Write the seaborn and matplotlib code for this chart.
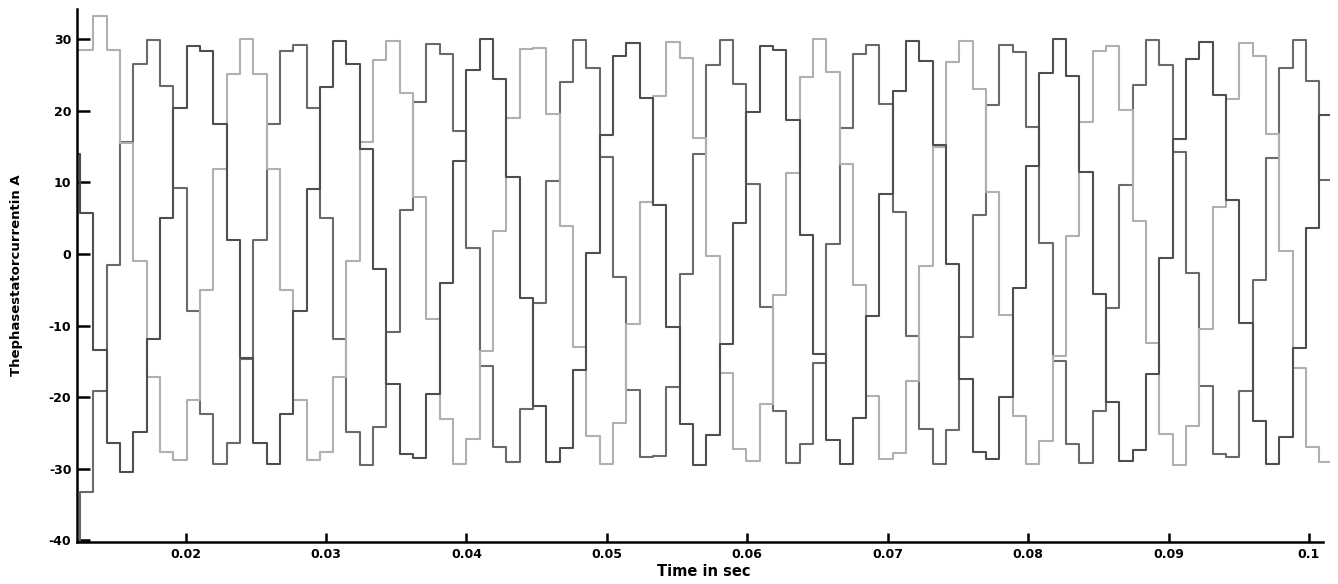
import numpy as np
import pandas as pd
import matplotlib
matplotlib.use('Agg')
import matplotlib.pyplot as plt
import seaborn as sns

# Muestreo de la corriente (retencion de orden cero)
t_inicio = 0.011525
periodo_muestreo = 0.000949

# Corriente de cada fase en A, un valor por escalon
fase_a = [-40.0, -33.3, -19.2, -1.5, 15.7, 26.6, 29.9, 23.4, 9.2, -8.0,
          -22.4, -29.3, -26.4, -14.7, 2.0, 18.2, 28.3, 29.2, 20.4, 5.0,
          -11.9, -24.9, -29.5, -24.2, -10.9, 6.2, 21.2, 29.4, 27.9, 17.2,
          0.8, -15.6, -26.9, -29.1, -21.6, -6.8, 10.2, 24.0, 29.9, 26.0,
          13.5, -3.2, -19.0, -28.3, -28.2, -18.6, -2.8, 14.0, 26.4, 29.9,
          23.8, 9.8, -7.4, -22.0, -29.2, -26.6, -15.2, 1.4, 17.6, 28.0,
          29.2, 21.0, 5.8, -11.4, -24.4, -29.4, -24.6, -11.6, 5.4, 20.8,
          29.2, 28.2, 17.8, 1.6, -15.0, -26.6, -29.2, -22.0, -7.6, 9.6,
          23.6, 29.9, 26.4, 14.2, -2.6, -18.4, -28.0, -28.4, -19.2, -3.6,
          13.4, 26.0, 29.9, 24.2, 10.3]
fase_b = [14.0, 5.7, -13.4, -26.4, -30.5, -24.9, -11.9, 5.0, 20.4, 29.1,
          28.3, 18.1, 2.0, -14.6, -26.4, -29.3, -22.4, -8.0, 9.1, 23.3,
          29.8, 26.6, 14.6, -2.1, -18.1, -28.0, -28.5, -19.5, -4.0, 13.0,
          25.7, 30.0, 24.4, 10.8, -6.2, -21.2, -29.0, -27.1, -16.2, 0.2,
          16.6, 27.6, 29.5, 21.8, 6.9, -10.2, -23.8, -29.5, -25.3, -12.6,
          4.3, 19.9, 29.0, 28.5, 18.7, 2.7, -14.0, -26.0, -29.4, -22.9,
          -8.7, 8.4, 22.8, 29.8, 26.9, 15.2, -1.4, -17.5, -27.7, -28.7,
          -20.0, -4.7, 12.3, 25.3, 30.0, 24.8, 11.5, -5.6, -20.7, -28.9,
          -27.4, -16.8, -0.5, 16.0, 27.3, 29.6, 22.2, 7.5, -9.6, -23.4,
          -29.4, -25.6, -13.2, 3.6, 19.4]
fase_c = [28.5, 28.5, 33.2, 28.5, 15.5, -1.0, -17.2, -27.6, -28.8, -20.4,
          -5.1, 11.9, 25.1, 30.0, 25.1, 11.9, -5.1, -20.4, -28.8, -27.6,
          -17.2, -1.0, 15.6, 27.1, 29.7, 22.5, 8.0, -9.1, -23.1, -29.4,
          -25.8, -13.6, 3.2, 19.0, 28.6, 28.8, 19.6, 3.9, -13.0, -25.5,
          -29.4, -23.6, -9.8, 7.3, 22.1, 29.6, 27.4, 16.2, -0.3, -16.6,
          -27.3, -28.9, -20.9, -5.8, 11.3, 24.7, 30.0, 25.4, 12.6, -4.4,
          -19.8, -28.6, -27.8, -17.7, -1.7, 15.0, 26.8, 29.8, 23.0, 8.7,
          -8.5, -22.7, -29.3, -26.2, -14.2, 2.5, 18.5, 28.4, 29.0, 20.1,
          4.6, -12.4, -25.1, -29.5, -24.0, -10.5, 6.6, 21.6, 29.5, 27.7,
          16.8, 0.4, -16.0, -27.0, -29.0]

xticks_val = [0.02, 0.03, 0.04, 0.05, 0.06, 0.07, 0.08, 0.09, 0.1]
xticks_lab = ['0.02', '0.03', '0.04', '0.05', '0.06', '0.07', '0.08', '0.09', '0.1']
yticks_val = [-40, -30, -20, -10, 0, 10, 20, 30]

# Tabla larga para seaborn
n = len(fase_a)
tiempo = t_inicio + periodo_muestreo * np.arange(n + 1)
tablas = []
for nombre, valores in [('a', fase_a), ('b', fase_b), ('c', fase_c)]:
    tablas.append(pd.DataFrame({'t': tiempo,
                                'i': valores + [valores[-1]],
                                'fase': nombre}))
df = pd.concat(tablas, ignore_index=True)

colores = {'a': '#6a6a6a', 'b': '#4e4e4e', 'c': '#b0b0b0'}

sns.set_theme(style='white')
plt.rcParams['font.family'] = ['DejaVu Sans']
plt.rcParams['axes.unicode_minus'] = False

fig = plt.figure(figsize=(13.38, 5.84), dpi=100)
ax = fig.add_axes([77 / 1338, 42.3 / 584, 1253 / 1338, 532.9 / 584])

sns.lineplot(data=df, x='t', y='i', hue='fase', hue_order=['a', 'c', 'b'],
             palette=colores, drawstyle='steps-post', estimator=None,
             sort=False, legend=False, linewidth=1.5, ax=ax)

ax.set_xlim(0.01226, 0.1015)
ax.set_ylim(-40.2, 34.25)
ax.set_xticks(xticks_val)
ax.set_xticklabels(xticks_lab)
ax.set_yticks(yticks_val)

sns.despine(ax=ax)
for lado in ['left', 'bottom']:
    ax.spines[lado].set_color('black')
    ax.spines[lado].set_linewidth(1.8)
# el eje x termina un poco antes que las curvas
ax.spines['bottom'].set_bounds(0.01226, 0.1010)

ax.tick_params(axis='both', direction='in', colors='black', width=1.8,
               labelsize=9, bottom=True, left=True)
ax.tick_params(axis='y', length=9, pad=4)
ax.tick_params(axis='x', length=6.5, pad=4.5)
for lab in ax.get_xticklabels() + ax.get_yticklabels():
    lab.set_fontweight('bold')

ax.set_xlabel('Time in sec', fontsize=10.5, fontweight='bold', color='black')
ax.xaxis.set_label_coords(0.5, -0.042)
ax.set_ylabel('Thephasestatorcurrentin A', fontsize=9.5, fontweight='bold',
              color='black')
ax.yaxis.set_label_coords(-0.043, 0.5)

plt.savefig('out.png', dpi=100)
